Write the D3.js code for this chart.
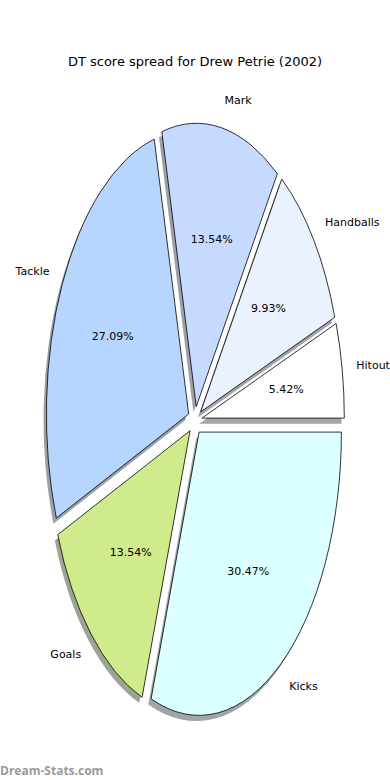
<!DOCTYPE html>
<html>
<head>
<meta charset="utf-8">
<script src="https://cdn.jsdelivr.net/npm/d3@7"></script>
<style>
  body { margin: 0; background: #fff; }
</style>
</head>
<body>
<div id="chart-area"></div>
<script>
const categories = ["Hitout", "Handballs", "Mark", "Tackle", "Goals", "Kicks"];
const values = [5.42, 9.93, 13.54, 27.09, 13.54, 30.47];
const colours = ["#ffffff", "#ebf2ff", "#c6d9ff", "#b6d6ff", "#d0eb8c", "#dcffff"];

const canvasWidth = 390;
const canvasHeight = 780;

// pie centre and radii (the axes are not square, so the pie is an ellipse)
const cx = 195, cy = 420.5, rx = 142.3, ry = 283.3;
const explode = 0.05;

const x = d3.scaleLinear().domain([-1, 1]).range([cx - rx, cx + rx]);
const y = d3.scaleLinear().domain([-1, 1]).range([cy + ry, cy - ry]);

const canvas = d3.select("#chart-area").append("svg")
  .attr("width", canvasWidth).attr("height", canvasHeight);

canvas.append("text")
  .attr("x", canvasWidth / 2)
  .attr("y", 66)
  .attr("text-anchor", "middle")
  .attr("font-family", "DejaVu Sans")
  .attr("font-size", "13px")
  .text("DT score spread for Drew Petrie (2002)");

// matplotlib style: start at 3 o'clock, counter clockwise
const total = d3.sum(values);
let acc = 0;
const wedges = values.map((v, i) => {
  const a0 = acc / total * 2 * Math.PI;
  acc += v;
  const a1 = acc / total * 2 * Math.PI;
  const mid = (a0 + a1) / 2;
  return {
    name: categories[i], value: v, colour: colours[i], a0, a1, mid,
    ox: explode * Math.cos(mid), oy: explode * Math.sin(mid)
  };
});

function wedgePath(d, dx, dy) {
  const px = t => x(dx + Math.cos(t)), py = t => y(dy + Math.sin(t));
  const large = (d.a1 - d.a0) > Math.PI ? 1 : 0;
  return `M${x(dx)},${y(dy)} L${px(d.a0)},${py(d.a0)} ` +
    `A${rx},${ry} 0 ${large} 0 ${px(d.a1)},${py(d.a1)} Z`;
}

// shadows first
canvas.append("g").selectAll("path")
  .data(wedges)
  .enter()
  .append("path")
  .attr("d", d => wedgePath(d, d.ox - 0.02, d.oy - 0.02))
  .attr("fill", d => {
    const c = d3.rgb(d.colour);
    return d3.rgb(c.r * 0.3, c.g * 0.3, c.b * 0.3);
  })
  .attr("fill-opacity", 0.5)
  .attr("stroke", "none");

canvas.append("g").selectAll("path")
  .data(wedges)
  .enter()
  .append("path")
  .attr("d", d => wedgePath(d, d.ox, d.oy))
  .attr("fill", d => d.colour)
  .attr("stroke", "#000")
  .attr("stroke-width", 0.8)
  .attr("stroke-linejoin", "round");

canvas.append("g").selectAll("text")
  .data(wedges)
  .enter()
  .append("text")
  .attr("x", d => x(d.ox + 1.1 * Math.cos(d.mid)))
  .attr("y", d => y(d.oy + 1.1 * Math.sin(d.mid)))
  .attr("text-anchor", d => Math.cos(d.mid) > 0 ? "start" : "end")
  .attr("dominant-baseline", "central")
  .attr("font-family", "DejaVu Sans")
  .attr("font-size", "11px")
  .text(d => d.name);

canvas.append("g").selectAll("text")
  .data(wedges)
  .enter()
  .append("text")
  .attr("x", d => x(d.ox + 0.6 * Math.cos(d.mid)))
  .attr("y", d => y(d.oy + 0.6 * Math.sin(d.mid)))
  .attr("text-anchor", "middle")
  .attr("dominant-baseline", "central")
  .attr("font-family", "DejaVu Sans")
  .attr("font-size", "11px")
  .text(d => (d.value / total * 100).toFixed(2) + "%");

canvas.append("text")
  .attr("x", 0)
  .attr("y", 775)
  .attr("font-family", "Open Sans")
  .attr("font-weight", "bold")
  .attr("font-size", "12px")
  .attr("fill", "#9a9a9a")
  .text("Dream-Stats.com");
</script>
</body>
</html>
